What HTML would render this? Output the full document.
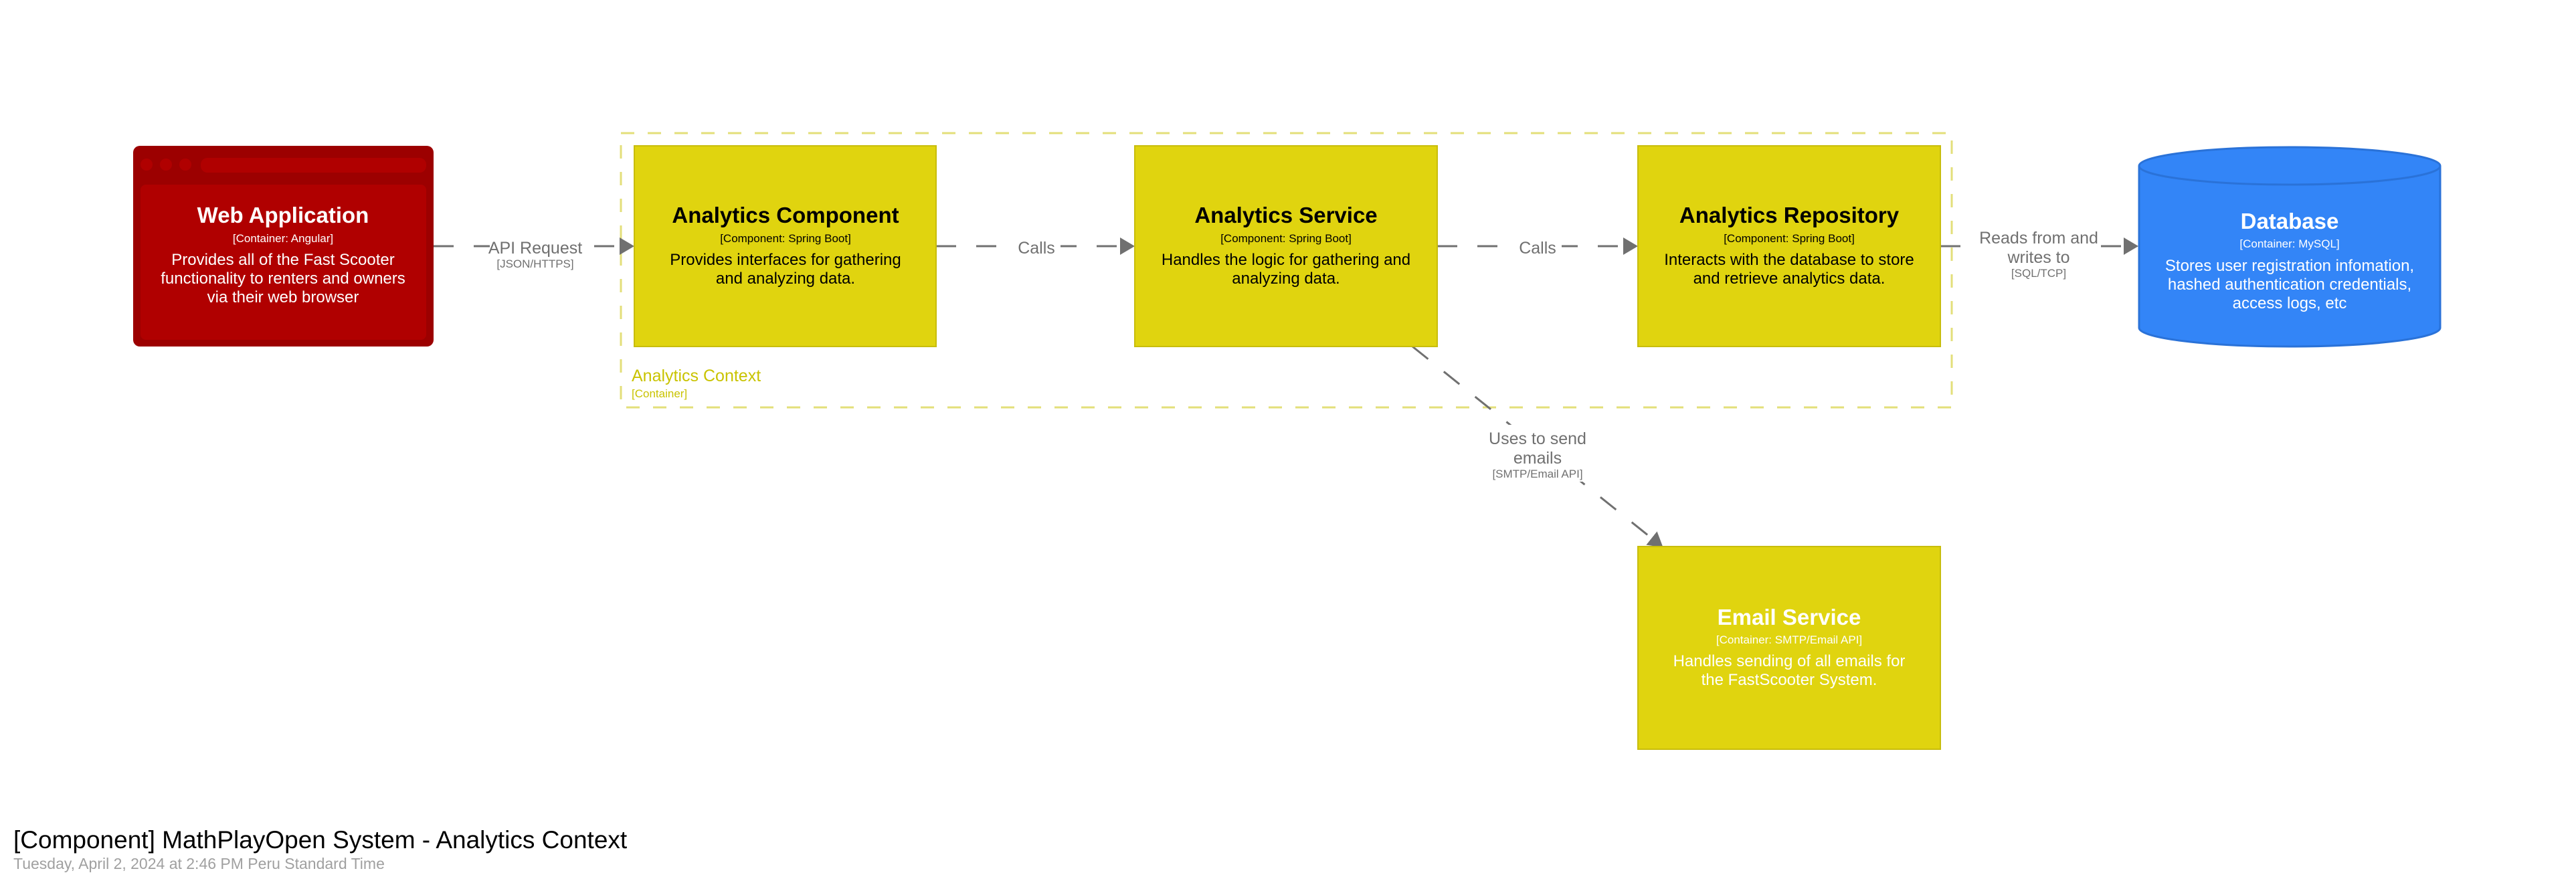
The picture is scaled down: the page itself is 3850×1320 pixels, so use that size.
<!DOCTYPE html>
<html><head><meta charset="utf-8"><style>
html,body{margin:0;padding:0;background:#fff;}
svg{display:block;font-family:"Liberation Sans",sans-serif;}
</style></head><body>
<svg width="3850" height="1320" viewBox="0 0 3850 1320" xmlns="http://www.w3.org/2000/svg">
<defs>
<marker id="ah" markerWidth="22" markerHeight="26" refX="20" refY="13" orient="auto" markerUnits="userSpaceOnUse" viewBox="0 0 22 26">
<path d="M0,0 L22,13 L0,26 z" fill="#707070"/>
</marker>
</defs>
<rect x="928" y="199" width="1989" height="410" fill="none" stroke="#e3df7a" stroke-width="3" stroke-dasharray="20,20"/>
<text x="944" y="570" font-size="25" fill="#c9c300">Analytics Context</text>
<text x="944" y="594" font-size="17" fill="#c9c300">[Container]</text>

<g stroke="#707070" stroke-width="3" fill="none" stroke-dasharray="30,30">
<line x1="648" y1="368" x2="946" y2="368" marker-end="url(#ah)"/>
<line x1="1399" y1="368" x2="1694" y2="368" marker-end="url(#ah)"/>
<line x1="2148" y1="368" x2="2446" y2="368" marker-end="url(#ah)"/>
<line x1="2900" y1="368" x2="3194" y2="368" marker-end="url(#ah)"/>
<line x1="2111" y1="518" x2="2484" y2="817" marker-end="url(#ah)"/>
</g>
<g font-size="25" fill="#707070" text-anchor="middle">
<rect x="732" y="350" width="140" height="60" fill="#fff"/>
<text x="800" y="379">API Request</text>
<text x="800" y="400" font-size="17">[JSON/HTTPS]</text>
<rect x="1515" y="350" width="70" height="36" fill="#fff"/>
<text x="1549" y="379">Calls</text>
<rect x="2264" y="350" width="70" height="36" fill="#fff"/>
<text x="2298" y="379">Calls</text>
<rect x="2955" y="335" width="185" height="85" fill="#fff"/>
<text x="3047" y="364">Reads from and</text>
<text x="3047" y="393">writes to</text>
<text x="3047" y="414" font-size="17">[SQL/TCP]</text>
<rect x="2220" y="635" width="160" height="85" fill="#fff"/>
<text x="2298" y="664">Uses to send</text>
<text x="2298" y="693">emails</text>
<text x="2298" y="714" font-size="17">[SMTP/Email API]</text>
</g>

<rect x="199" y="218" width="449" height="300" rx="10" fill="#9c0000"/>
<rect x="210" y="276" width="427" height="232" rx="8" fill="#b00000"/>
<circle cx="219" cy="246" r="9" fill="#b00000"/>
<circle cx="248" cy="246" r="9" fill="#b00000"/>
<circle cx="277" cy="246" r="9" fill="#b00000"/>
<rect x="300" y="236" width="337" height="22" rx="10" fill="#b00000"/>
<g text-anchor="middle" fill="#fff">
<text x="423" y="333" font-size="33" font-weight="bold">Web Application</text>
<text x="423" y="362" font-size="17">[Container: Angular]</text>
<text x="423" y="396" font-size="24">Provides all of the Fast Scooter</text>
<text x="423" y="424" font-size="24">functionality to renters and owners</text>
<text x="423" y="452" font-size="24">via their web browser</text>
</g>

<g fill="#e0d40f" stroke="#c8bd0c" stroke-width="2">
<rect x="948" y="218" width="451" height="300"/>
<rect x="1696" y="218" width="452" height="300"/>
<rect x="2448" y="218" width="452" height="300"/>
<rect x="2448" y="817" width="452" height="303"/>
</g>
<g text-anchor="middle" fill="#000">
<text x="1174" y="333" font-size="33" font-weight="bold">Analytics Component</text>
<text x="1174" y="362" font-size="17">[Component: Spring Boot]</text>
<text x="1174" y="396" font-size="24">Provides interfaces for gathering</text>
<text x="1174" y="424" font-size="24">and analyzing data.</text>
<text x="1922" y="333" font-size="33" font-weight="bold">Analytics Service</text>
<text x="1922" y="362" font-size="17">[Component: Spring Boot]</text>
<text x="1922" y="396" font-size="24">Handles the logic for gathering and</text>
<text x="1922" y="424" font-size="24">analyzing data.</text>
<text x="2674" y="333" font-size="33" font-weight="bold">Analytics Repository</text>
<text x="2674" y="362" font-size="17">[Component: Spring Boot]</text>
<text x="2674" y="396" font-size="24">Interacts with the database to store</text>
<text x="2674" y="424" font-size="24">and retrieve analytics data.</text>
</g>
<g text-anchor="middle" fill="#fff">
<text x="2674" y="934" font-size="33" font-weight="bold">Email Service</text>
<text x="2674" y="962" font-size="17">[Container: SMTP/Email API]</text>
<text x="2674" y="996" font-size="24">Handles sending of all emails for</text>
<text x="2674" y="1024" font-size="24">the FastScooter System.</text>
</g>

<path d="M3197,248 L3197,490 A225,28 0 0 0 3647,490 L3647,248" fill="#3385f7" stroke="#2a72d8" stroke-width="3"/>
<ellipse cx="3422" cy="248" rx="225" ry="28" fill="#3385f7" stroke="#2a72d8" stroke-width="3"/>
<g text-anchor="middle" fill="#fff">
<text x="3422" y="342" font-size="33" font-weight="bold">Database</text>
<text x="3422" y="370" font-size="17">[Container: MySQL]</text>
<text x="3422" y="405" font-size="24">Stores user registration infomation,</text>
<text x="3422" y="433" font-size="24">hashed authentication credentials,</text>
<text x="3422" y="461" font-size="24">access logs, etc</text>
</g>

<text x="20" y="1268" font-size="37" fill="#000">[Component] MathPlayOpen System - Analytics Context</text>
<text x="20" y="1299" font-size="23" fill="#a0a0a0">Tuesday, April 2, 2024 at 2:46 PM Peru Standard Time</text>
</svg>
</body></html>
